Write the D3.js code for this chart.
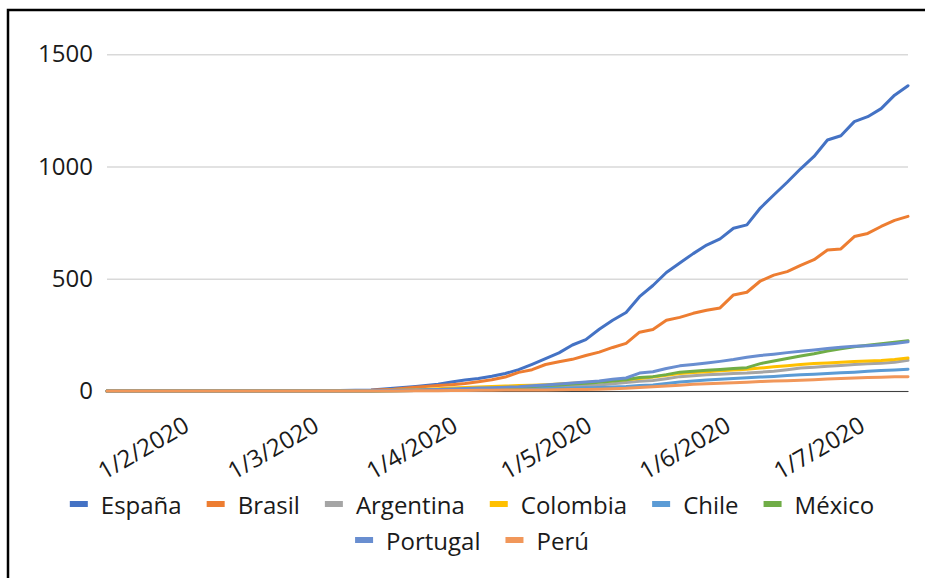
<!DOCTYPE html>
<html>
<head>
<meta charset="utf-8">
<script src="https://cdn.jsdelivr.net/npm/d3@7"></script>
<style>
  html, body { margin: 0; padding: 0; background: #fff; }
  svg { display: block; font-family: "Open Sans", sans-serif; }
</style>
</head>
<body>
<svg id="chart" width="925" height="578"></svg>
<script>
// ---- data ----
const dates = [
  "2020-01-16","2020-02-01","2020-02-15","2020-03-01","2020-03-08","2020-03-15","2020-03-20","2020-03-25",
  "2020-03-30","2020-04-02","2020-04-05","2020-04-08","2020-04-11","2020-04-14","2020-04-17","2020-04-20",
  "2020-04-23","2020-04-26","2020-04-29","2020-05-02","2020-05-05","2020-05-08","2020-05-11","2020-05-14",
  "2020-05-17","2020-05-20","2020-05-23","2020-05-26","2020-05-29","2020-06-01","2020-06-04","2020-06-07",
  "2020-06-10","2020-06-13","2020-06-16","2020-06-19","2020-06-22","2020-06-25","2020-06-28","2020-07-01",
  "2020-07-04","2020-07-07","2020-07-10","2020-07-13"
];
const seriesNames = ["España","Brasil","Argentina","Colombia","Chile","México","Portugal","Perú"];
const seriesColors = ["#4472C4","#ED7D31","#A5A5A5","#FFC000","#5B9BD5","#70AD47","#698ED0","#F1975A"];

const espana    = [0,0,0,0,2,5,12,20, 30,40,49,56,66,78,95,119,144,170,205,229,275,315,350,420,470,528,570,612,650,678,725,740,815,873,930,990,1045,1118,1137,1200,1222,1258,1318,1360];
const brasil    = [0,0,0,0,1,3,8,17, 24,28,33,41,50,62,83,95,118,130,141,158,173,194,212,262,274,315,328,346,360,370,428,440,490,516,532,560,585,628,633,688,702,733,760,778];
const argentina = [0,0,0,0,0,0,1,2, 3,4,5,6,8,10,12,14,16,18,21,24,27,32,38,43,47,55,64,68,72,75,78,80,84,88,95,102,106,110,114,118,121,124,128,137];
const colombia  = [0,0,0,0,0,1,3,6, 10,13,16,18,20,22,24,26,28,31,34,38,42,46,50,56,62,70,78,82,86,90,94,97,102,108,113,118,122,125,128,131,134,136,140,147];
const chile     = [0,0,0,0,0,0,1,2, 3,4,5,6,7,8,9,10,11,12,13,14,16,18,20,24,27,33,40,45,49,52,56,59,62,65,69,72,75,78,81,84,88,91,94,97];
const mexico    = [0,0,0,0,0,0,1,2, 4,5,7,9,11,13,16,20,24,27,31,35,39,45,50,60,64,73,84,88,92,96,100,104,122,134,145,156,166,178,188,197,204,210,217,224];
const portugal  = [0,0,0,0,0,1,3,5, 7,9,11,13,15,17,19,23,27,31,36,40,45,52,58,80,86,100,112,118,125,132,140,150,158,164,171,177,183,189,195,199,202,206,212,219];
const peru      = [0,0,0,0,0,0,0,1, 1,2,2,3,3,4,4,5,5,6,7,7,8,10,12,16,19,22,26,30,32,35,37,39,42,44,46,48,50,53,56,58,60,61,63,64];

const yTicks = [0, 500, 1000, 1500];
const xTickDates = ["2020-02-01","2020-03-01","2020-04-01","2020-05-01","2020-06-01","2020-07-01"];

const seriesValues = [espana, brasil, argentina, colombia, chile, mexico, portugal, peru];

// ---- layout ----
const svg = d3.select("#chart");
const parse = d3.utcParse("%Y-%m-%d");
const fmt = d3.utcFormat("%-d/%-m/%Y");
const textColor = "#1a1a1a";
const fontSize = 24;
const fontFam = "'Open Sans', sans-serif";

const plot = { left: 107, right: 908, top: 54.3, bottom: 391 };

const x = d3.scaleUtc()
  .domain([parse(dates[0]), parse(dates[dates.length - 1])])
  .range([plot.left, plot.right]);
const y = d3.scaleLinear().domain([0, 1500]).range([plot.bottom, plot.top]);

// outer frame (extends past the bottom/right edges)
svg.append("rect")
  .attr("x", 8).attr("y", 10)
  .attr("width", 960).attr("height", 620)
  .attr("fill", "none").attr("stroke", "#000").attr("stroke-width", 2.5);

// y axis with gridlines
const yAxis = svg.append("g")
  .attr("transform", `translate(${plot.left},0)`)
  .call(d3.axisLeft(y).tickValues(yTicks).tickSize(-(plot.right - plot.left)).tickPadding(14).tickFormat(d3.format("d")));
yAxis.select(".domain").remove();
yAxis.selectAll(".tick line").attr("stroke", "#d9d9d9").attr("stroke-width", 1.5);
yAxis.selectAll(".tick text")
  .attr("fill", textColor).style("font-size", fontSize + "px").style("font-family", fontFam);

// x axis
const xAxis = svg.append("g")
  .attr("transform", `translate(0,${plot.bottom})`)
  .call(d3.axisBottom(x).tickValues(xTickDates.map(parse)).tickSize(0).tickFormat(fmt));
xAxis.select(".domain").attr("stroke", "#404040").attr("stroke-width", 1.2);
xAxis.selectAll(".tick text")
  .attr("fill", textColor)
  .style("font-size", fontSize + "px").style("font-family", fontFam)
  .attr("text-anchor", "end")
  .attr("dominant-baseline", "central")
  .attr("x", 0).attr("y", 0).attr("dy", null)
  .attr("transform", "translate(7,31) rotate(-30)");

// lines
const line = d3.line()
  .x((d, i) => x(parse(dates[i])))
  .y(d => y(d));

const lineG = svg.append("g");
seriesValues.forEach((vals, k) => {
  lineG.append("path")
    .datum(vals)
    .attr("d", line)
    .attr("fill", "none")
    .attr("stroke", seriesColors[k])
    .attr("stroke-width", 3)
    .attr("stroke-linejoin", "round")
    .attr("stroke-linecap", "round");
});

// legend
const legendCenter = 472;
const rowY = [504, 540];
const swatchW = 18, swatchGap = 13, itemGap = 25, maxRowW = 840;
const legendG = svg.append("g");
const items = seriesNames.map((name, k) => {
  const g = legendG.append("g");
  g.append("rect").attr("width", swatchW).attr("height", 6).attr("y", -3).attr("fill", seriesColors[k]);
  const t = g.append("text")
    .attr("x", swatchW + swatchGap)
    .attr("dominant-baseline", "central")
    .attr("fill", textColor)
    .style("font-size", fontSize + "px").style("font-family", fontFam)
    .text(name);
  const w = swatchW + swatchGap + t.node().getComputedTextLength();
  return { g, w };
});
// wrap into rows
const rows = [[]];
let cur = 0;
items.forEach(it => {
  const add = (rows[rows.length - 1].length ? itemGap : 0) + it.w;
  if (cur + add > maxRowW && rows[rows.length - 1].length) {
    rows.push([it]); cur = it.w;
  } else {
    rows[rows.length - 1].push(it); cur += add;
  }
});
rows.forEach((row, r) => {
  const total = d3.sum(row, d => d.w) + itemGap * (row.length - 1);
  let xx = legendCenter - total / 2;
  row.forEach(it => {
    it.g.attr("transform", `translate(${xx},${rowY[r]})`);
    xx += it.w + itemGap;
  });
});
</script>
</body>
</html>
